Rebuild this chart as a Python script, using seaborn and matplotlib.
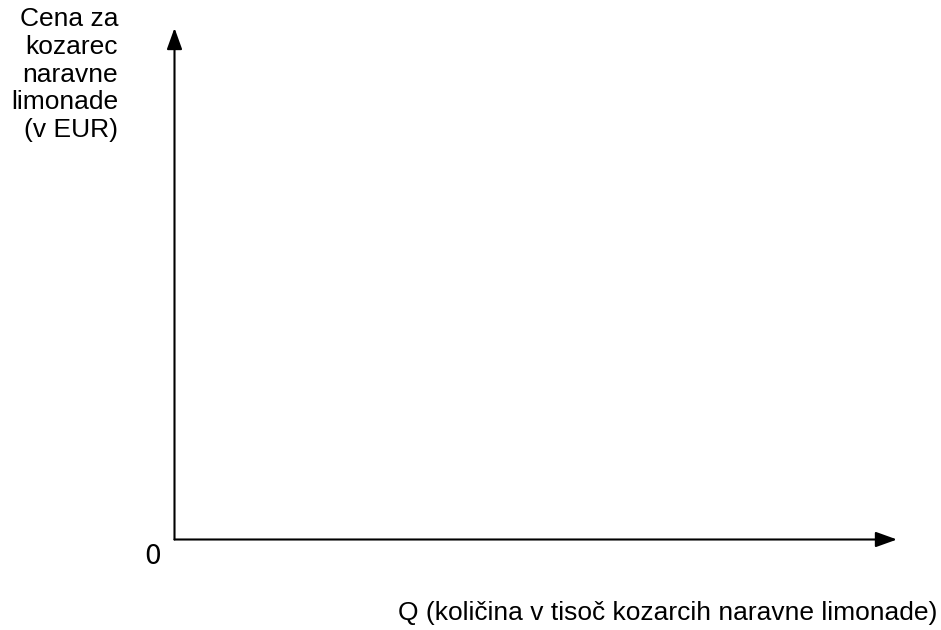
import matplotlib
matplotlib.use("Agg")
import matplotlib.pyplot as plt
import seaborn as sns

# chart content (empty diagram: only axes and labels)
y_label_lines = ["Cena za", "kozarec", "naravne", "limonade", "(v EUR)"]
x_label = "Q (količina v tisoč kozarcih naravne limonade)"
origin_label = "0"

W, H = 941, 630


def run() -> None:
    sns.set_theme(style="white")
    plt.rcParams["font.family"] = ["Liberation Sans", "DejaVu Sans"]

    fig = plt.figure(figsize=(W / 100, H / 100), dpi=100)
    left, bottom, right, top = 174.5, 539.5, 897, 28
    ax = fig.add_axes([left / W, 1 - bottom / H, (right - left) / W, (bottom - top) / H])
    ax.set_xlim(0, 1)
    ax.set_ylim(0, 1)
    ax.set_xticks([])
    ax.set_yticks([])
    sns.despine(ax=ax, left=True, bottom=True)

    arrow = dict(arrowstyle="-|>,head_length=1.0,head_width=0.36", mutation_scale=13,
                 color="black", lw=1.5, shrinkA=0, shrinkB=0)
    ax.annotate("", xy=(1, 0), xytext=(0, 0), xycoords="axes fraction", arrowprops=arrow)
    ax.annotate("", xy=(0, 1), xytext=(0, 0), xycoords="axes fraction", arrowprops=arrow)

    fig.text(118 / W, 1 - 7 / H, "\n".join(y_label_lines), ha="right", va="top",
             multialignment="right", fontsize=19, linespacing=1.2, color="black")
    fig.text(937 / W, 1 - 613 / H, x_label, ha="right", va="center", fontsize=19, color="black")
    fig.text(153 / W, 1 - 557 / H, origin_label, ha="center", va="center", fontsize=19,
             family="DejaVu Sans", color="black")

    fig.savefig("out.png", dpi=100)
    plt.close(fig)


if __name__ == "__main__":
    run()
